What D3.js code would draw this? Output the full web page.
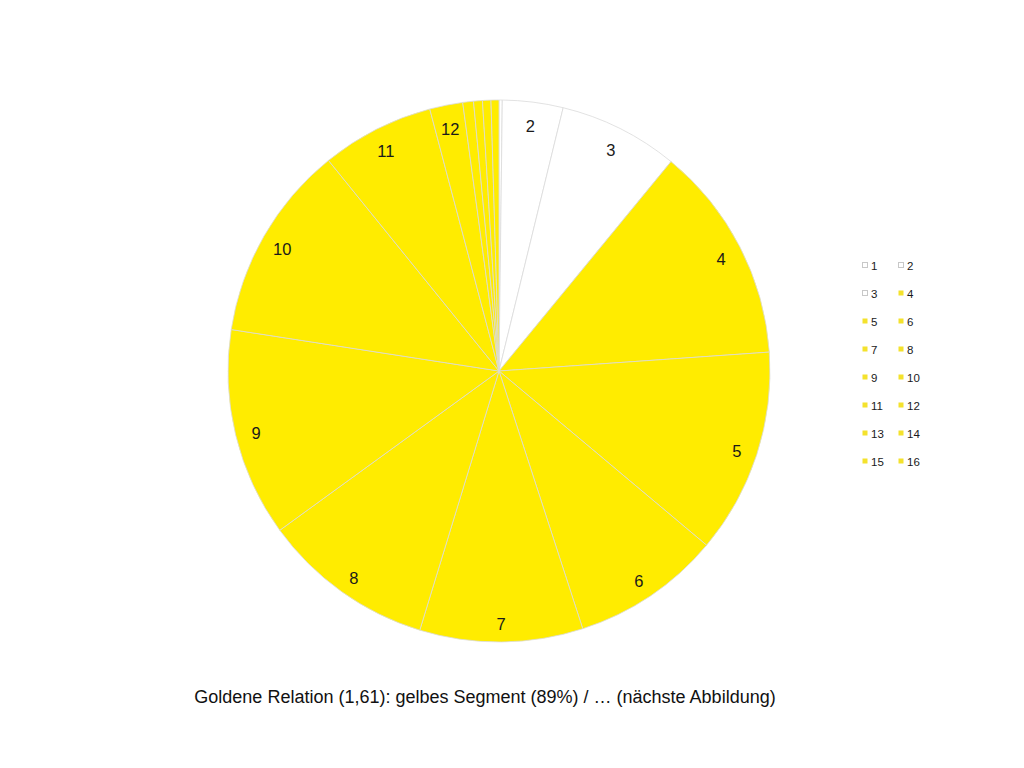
<!DOCTYPE html>
<html>
<head>
<meta charset="utf-8">
<script src="https://cdn.jsdelivr.net/npm/d3@7"></script>
<style>
  html, body { margin: 0; padding: 0; background: #ffffff; }
  svg { display: block; }
  text { font-family: "Liberation Sans", Arial, Helvetica, sans-serif; }
</style>
</head>
<body>
<svg id="chart" width="1024" height="768"></svg>
<script>
// Data (segment sizes, in degrees of the full circle)
const categories = ["1","2","3","4","5","6","7","8","9","10","11","12","13","14","15","16"];
const values = [0.7, 13, 25.7, 46.6, 44, 32, 35, 37, 44.8, 42.2, 24.2, 7.1, 2.3, 1.9, 1.8, 1.7];
const colorsKey = ["white","white","white","yellow","yellow","yellow","yellow","yellow","yellow","yellow","yellow","yellow","yellow","yellow","yellow","yellow"];
const shownLabels = ["2","3","4","5","6","7","8","9","10","11","12"];
const titleText = "Goldene Relation (1,61): gelbes Segment (89%) / … (nächste Abbildung)";

const svg = d3.select("#chart");
const cx = 499, cy = 371, r = 271, labelR = 250;

const fill = d3.scaleOrdinal().domain(["white","yellow"]).range(["#ffffff","#FFEC00"]);
const legendFill = d3.scaleOrdinal().domain(["white","yellow"]).range(["#ffffff","#F4E22C"]);

const data = categories.map((c, i) => ({ cat: c, value: values[i], key: colorsKey[i] }));

const pie = d3.pie().sort(null).value(d => d.value);
const arcs = pie(data);
const arc = d3.arc().innerRadius(0).outerRadius(r);
const labelArc = d3.arc().innerRadius(labelR).outerRadius(labelR);

const g = svg.append("g").attr("transform", `translate(${cx},${cy})`);

g.selectAll("path.slice")
  .data(arcs)
  .join("path")
  .attr("class", "slice")
  .attr("d", arc)
  .attr("fill", d => fill(d.data.key))
  .attr("stroke", "#dadada")
  .attr("stroke-width", 0.8);

g.selectAll("text.lbl")
  .data(arcs.filter(d => shownLabels.includes(d.data.cat)))
  .join("text")
  .attr("class", "lbl")
  .attr("transform", d => { const c = labelArc.centroid(d); return `translate(${c[0]},${c[1] + 3})`; })
  .attr("text-anchor", "middle")
  .attr("dominant-baseline", "central")
  .attr("font-size", 16.5)
  .attr("fill", "#1a1a1a")
  .text(d => d.data.cat);

// Legend: two columns
const legend = svg.append("g").attr("transform", "translate(862,262)");
const colX = d3.scaleOrdinal().domain([0,1]).range([0, 36]);
const rowY = d3.scaleLinear().domain([0, 7]).range([0, 196]);

const items = legend.selectAll("g.item")
  .data(data)
  .join("g")
  .attr("class", "item")
  .attr("transform", (d, i) => `translate(${colX(i % 2)},${rowY(Math.floor(i / 2))})`);

items.append("rect")
  .attr("x", 0.5).attr("y", 0.5)
  .attr("width", 5).attr("height", 5)
  .attr("fill", d => legendFill(d.key))
  .attr("stroke", d => d.key === "white" ? "#c8c8c8" : "none")
  .attr("stroke-width", 1);

items.append("text")
  .attr("x", 9)
  .attr("y", 3.5)
  .attr("dominant-baseline", "central")
  .attr("font-size", 11.5)
  .attr("fill", "#1a1a1a")
  .text(d => d.cat);

svg.append("text")
  .attr("x", 485)
  .attr("y", 697)
  .attr("text-anchor", "middle")
  .attr("dominant-baseline", "central")
  .attr("font-size", 18)
  .attr("fill", "#111")
  .text(titleText);
</script>
</body>
</html>
